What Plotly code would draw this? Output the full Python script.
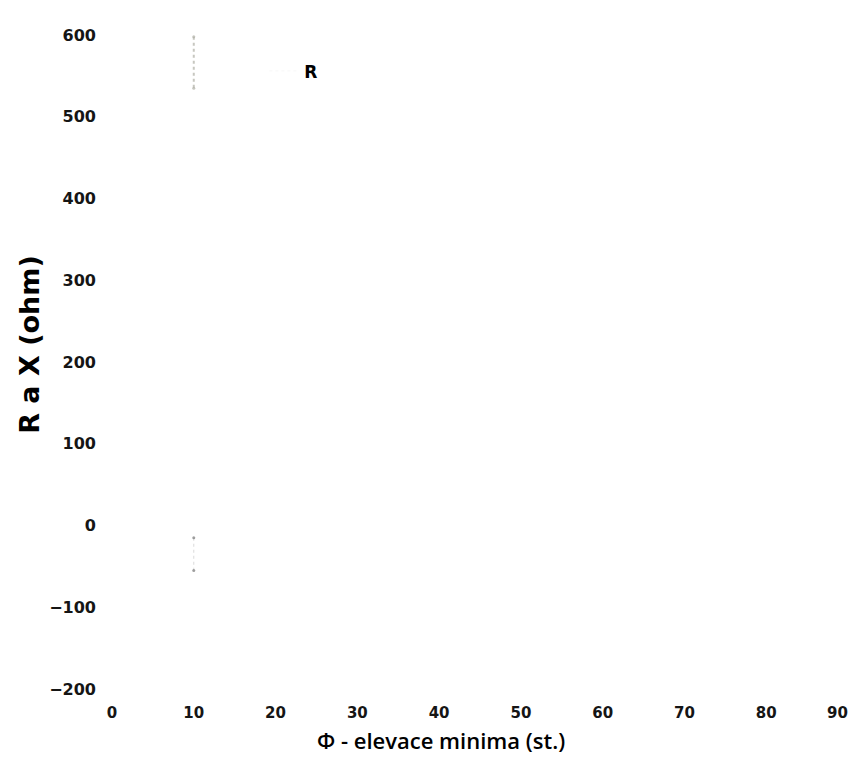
import plotly.graph_objects as go

# elevace minima (st.) a hodnoty R / X (ohm)
elevace = [10, 10]
r_hodnoty = [598, 535]
x_hodnoty = [-15, -55]

x_ticks = [0, 10, 20, 30, 40, 50, 60, 70, 80, 90]
y_ticks = [-200, -100, 0, 100, 200, 300, 400, 500, 600]

fig = go.Figure()

# R - slabě viditelná tečkovaná čára
fig.add_trace(go.Scatter(
    x=elevace,
    y=r_hodnoty,
    mode='lines+markers',
    name='R',
    showlegend=False,
    line=dict(color='rgba(175,175,165,0.7)', width=2, dash='dot'),
    marker=dict(size=3, color='rgba(175,175,165,0.7)')
))

# X - téměř neviditelné body
fig.add_trace(go.Scatter(
    x=elevace,
    y=x_hodnoty,
    mode='lines+markers',
    name='X',
    showlegend=False,
    line=dict(color='rgba(160,160,160,0.4)', width=1, dash='dot'),
    marker=dict(size=3, color='rgba(120,120,120,0.7)')
))

# položka legendy (symbol je v předloze téměř vybledlý)
fig.add_trace(go.Scatter(
    x=[None], y=[None],
    mode='lines',
    name='R',
    line=dict(color='rgba(200,200,200,0.15)', width=1, dash='dot')
))

y_tick_font = dict(size=16, family='DejaVu Sans, Verdana, sans-serif', weight='bold', color='#151515')
x_tick_font = dict(size=15, family='DejaVu Sans, Verdana, sans-serif', weight='bold', color='#151515')

# poslední popisek (90) by se na pravém okraji ořízl -> vykreslí se jako anotace
x_ticktext = [str(v) for v in x_ticks[:-1]] + ['']

# stránka má okraj body 8 px, proto je obrázek menší (bez posuvníku)
fig.update_layout(
    width=842,
    height=748,
    paper_bgcolor='white',
    plot_bgcolor='white',
    margin=dict(l=104, r=2, t=27, b=67),
    font=dict(family='DejaVu Sans, sans-serif', color='black'),
    legend=dict(
        x=0.207, y=0.972, xanchor='left', yanchor='top',
        bgcolor='rgba(0,0,0,0)',
        font=dict(size=17, family='DejaVu Sans, Verdana, sans-serif', weight='bold'),
        itemwidth=30
    ),
    xaxis=dict(
        range=[0, 90],
        tickvals=x_ticks,
        ticktext=x_ticktext,
        ticks='',
        ticklabelstandoff=13,
        tickfont=x_tick_font,
        showgrid=False,
        zeroline=False,
        showline=False,
        automargin=False
    ),
    yaxis=dict(
        range=[-200, 600],
        tickvals=y_ticks,
        ticks='',
        ticklabelstandoff=15,
        tickfont=y_tick_font,
        showgrid=False,
        zeroline=False,
        showline=False,
        automargin=False
    ),
    annotations=[
        dict(text=str(x_ticks[-1]),
             xref='x', yref='paper', x=x_ticks[-1], y=0,
             showarrow=False, xanchor='right', yanchor='top',
             xshift=2, yshift=-13,
             font=x_tick_font),
        dict(text='Φ - elevace minima (st.)',
             xref='paper', yref='paper', x=0.447, y=-0.078,
             showarrow=False, xanchor='center', yanchor='middle',
             font=dict(size=22, family='Open Sans, sans-serif', weight=600, color='black')),
        dict(text='R a X (ohm)',
             xref='paper', yref='paper', x=-0.113, y=0.5275,
             showarrow=False, xanchor='center', yanchor='middle', textangle=-90,
             font=dict(size=27, family='DejaVu Sans, Verdana, sans-serif', weight='bold', color='black'))
    ]
)

fig.write_html("out.html")
